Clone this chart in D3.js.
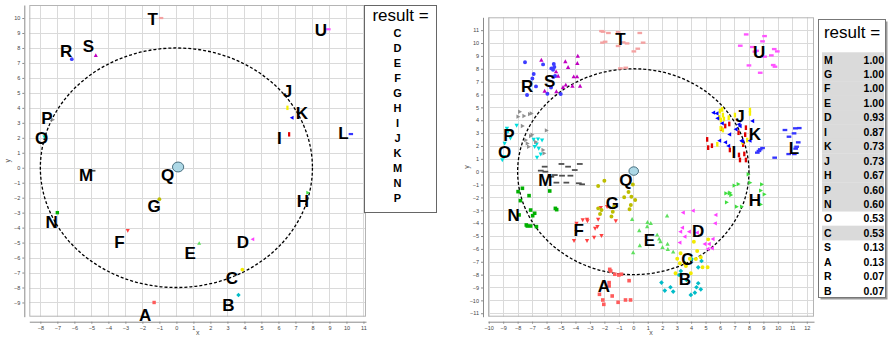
<!DOCTYPE html>
<html>
<head>
<meta charset="utf-8">
<script src="https://cdn.jsdelivr.net/npm/d3@7"></script>
<style>
  body { margin: 0; background: #fff; }
  svg { display: block; }
  text { font-family: "Liberation Sans", Arial, sans-serif; }
</style>
</head>
<body>
<svg id="chart" width="888" height="337"></svg>
<script>
// ---------- data ----------
const letters = ["A","B","C","D","E","F","G","H","I","J","K","L","M","N","O","P","R","S","T","U"];

// single-sample view (left): one point per letter
const leftPtX = [-1.31, 3.65, 3.88, 4.49, 1.34, -2.86, -1.0, 7.73, 6.63, 6.53, 6.8, 10.26, -4.92, -7.0, -7.76, -7.27, -6.15, -4.74, -0.9, 8.94];
const leftPtY = [-9.0, -8.5, -6.8, -4.78, -5.05, -4.2, -2.1, -1.67, 2.23, 4.0, 3.34, 2.25, -0.2, -3.0, 2.07, 3.2, 7.25, 7.5, 10.0, 9.25];
const leftLabelX = [-1.84, 3.06, 3.26, 3.91, 0.81, -3.35, -1.31, 7.44, 6.06, 6.53, 7.38, 9.82, -5.31, -7.33, -7.92, -7.62, -6.49, -5.18, -1.39, 8.49];
const leftLabelY = [-9.84, -9.17, -7.39, -5.01, -5.72, -4.98, -2.56, -2.27, 1.96, 5.08, 3.63, 2.30, -0.49, -3.65, 1.96, 3.30, 7.75, 8.13, 9.87, 9.15];
const leftQuery = [0.1, 0.05];
const leftQueryLabel = [-0.51, -0.49];
const leftResult = ["C","D","E","F","G","H","I","J","K","M","N","P"];

// multi-sample view (right): 15 points per letter
const ptsA = [[-1.63,-7.59],[-1.56,-7.72],[-1.28,-7.97],[-1.00,-8.03],[-0.82,-7.97],[-1.67,-8.62],[-1.67,-8.88],[-2.34,-9.53],[-1.46,-9.66],[-2.11,-9.97],[-2.04,-10.31],[-1.05,-10.15],[-0.54,-9.97],[-0.19,-9.97],[-0.29,-8.47]];
const ptsB = [[4.03,-6.78],[4.72,-6.94],[4.49,-7.43],[3.29,-7.72],[1.95,-8.62],[2.18,-9.24],[2.57,-8.98],[4.37,-8.98],[4.67,-9.14],[4.26,-9.40],[3.98,-9.58],[3.17,-8.03],[3.68,-8.42],[2.76,-9.32],[4.49,-8.67]];
const ptsC = [[5.18,-5.26],[4.19,-5.44],[4.42,-6.16],[3.27,-6.34],[3.04,-6.76],[3.22,-7.12],[3.91,-6.76],[3.64,-7.33],[2.92,-7.90],[3.98,-7.90],[4.33,-6.78],[4.79,-7.43],[5.14,-7.43],[4.67,-6.65],[3.57,-7.12]];
const ptsD = [[3.45,-3.18],[4.14,-3.03],[5.71,-3.36],[5.67,-4.01],[3.27,-4.66],[3.40,-4.35],[3.87,-4.66],[3.57,-5.05],[3.22,-5.51],[4.42,-4.74],[4.95,-5.62],[5.25,-5.62],[5.51,-5.23],[5.46,-5.95],[5.16,-6.01]];
const ptsE = [[-0.08,-3.70],[0.98,-3.93],[1.21,-4.01],[0.96,-4.27],[0.41,-4.58],[0.45,-5.75],[-0.01,-6.29],[2.34,-3.44],[1.65,-4.92],[1.79,-5.23],[1.88,-5.44],[2.37,-5.62],[2.39,-6.03],[2.76,-6.24],[2.02,-5.88]];
const ptsF = [[-3.93,-4.01],[-3.50,-3.75],[-3.20,-3.70],[-3.17,-3.83],[-2.25,-2.79],[-1.81,-2.72],[-2.43,-3.70],[-1.21,-3.83],[-2.64,-4.40],[-2.48,-4.27],[-2.71,-5.10],[-2.20,-4.97],[-4.10,-5.36],[-3.20,-5.36],[-3.93,-4.66]];
const ptsG = [[-2.43,-1.11],[-2.00,-0.70],[-2.43,-2.85],[-2.30,-3.29],[-1.42,-3.11],[-1.51,-3.49],[-0.33,-1.58],[-0.13,-1.94],[0.13,-2.20],[-0.17,-2.59],[-0.26,-2.92],[-0.03,-1.00],[-0.63,-1.99],[-1.33,-2.72],[-2.20,-2.98]];
const ptsH = [[6.41,-1.68],[6.68,-1.63],[6.98,-1.08],[7.26,-0.96],[6.75,-1.81],[6.45,-2.38],[7.14,-2.72],[7.49,-2.72],[7.95,-0.20],[8.07,-0.85],[8.88,-0.98],[9.06,-1.76],[8.81,-1.47],[8.81,-2.54],[6.64,-1.68]];
const ptsI = [[6.64,3.71],[6.36,3.55],[6.08,3.34],[7.79,3.42],[7.28,3.03],[5.11,2.51],[5.18,1.87],[5.44,2.02],[6.68,1.69],[7.74,2.88],[7.60,2.10],[7.31,1.30],[7.68,1.38],[7.79,0.91],[7.38,0.91]];
const ptsJ = [[6.15,4.84],[5.99,4.72],[6.20,4.40],[6.27,4.09],[6.06,4.02],[8.07,4.79],[7.03,4.40],[6.04,3.37],[6.20,3.24],[5.81,2.13],[7.55,2.30],[5.94,4.22],[6.60,4.20],[8.07,4.53],[7.88,2.46]];
const ptsK = [[5.55,4.59],[5.83,4.15],[6.15,3.76],[7.31,3.68],[8.25,3.94],[7.10,3.30],[6.66,2.90],[5.97,2.41],[6.38,2.28],[6.59,2.00],[7.49,2.41],[7.55,2.35],[8.07,2.41],[5.78,4.53],[7.38,3.55]];
const ptsL = [[10.49,3.24],[11.21,3.37],[11.48,3.39],[11.12,2.98],[10.77,2.72],[11.41,2.28],[11.23,1.79],[10.75,1.37],[11.14,1.37],[9.78,1.09],[8.94,1.84],[8.69,1.61],[8.78,1.74],[8.58,1.48],[11.30,1.94]];
const ptsM = [[-6.13,0.39],[-4.97,0.60],[-3.70,0.60],[-6.40,0.08],[-5.43,-0.26],[-4.93,-0.31],[-4.35,-0.31],[-5.32,-0.85],[-4.63,-0.85],[-3.77,-0.90],[-3.54,-0.98],[-6.08,0.00],[-5.67,-0.39],[-4.05,0.13],[-4.51,0.39]];
const ptsN = [[-7.97,-1.55],[-7.67,-1.29],[-7.21,-1.86],[-7.81,-2.25],[-5.78,-1.50],[-7.10,-2.98],[-6.82,-3.23],[-6.96,-3.42],[-5.39,-2.85],[-5.30,-2.95],[-7.33,-4.22],[-7.10,-4.22],[-6.70,-4.27],[-7.90,-3.36],[-7.40,-4.14]];
const ptsO = [[-8.74,3.37],[-8.07,3.60],[-8.90,2.20],[-9.06,0.91],[-8.94,1.17],[-6.89,2.51],[-6.59,2.54],[-6.68,2.15],[-6.54,1.81],[-6.40,1.37],[-6.66,1.12],[-6.82,1.94],[-6.31,2.46],[-8.67,3.11],[-8.50,2.60]];
const ptsP = [[-7.86,4.66],[-7.56,4.33],[-7.17,4.48],[-7.05,4.53],[-7.67,3.55],[-7.44,2.46],[-7.00,2.88],[-7.10,2.77],[-7.33,2.20],[-7.24,1.94],[-6.75,2.31],[-6.01,3.21],[-6.24,1.69],[-6.17,1.43],[-7.97,4.28]];
const ptsR = [[-7.49,8.50],[-6.24,8.34],[-5.50,8.37],[-5.46,8.13],[-5.67,8.03],[-6.89,7.59],[-6.98,7.25],[-5.41,7.43],[-5.53,7.36],[-6.73,6.63],[-5.69,6.55],[-7.35,5.96],[-5.94,6.06],[-5.02,6.04],[-5.55,7.93]];
const ptsS = [[-6.36,8.68],[-4.70,8.55],[-3.84,8.99],[-3.87,8.42],[-4.51,8.11],[-5.34,7.77],[-5.20,7.43],[-4.12,7.38],[-3.89,7.38],[-3.68,6.66],[-4.21,6.66],[-4.67,6.74],[-5.32,6.22],[-6.13,6.27],[-4.86,6.55]];
const ptsT = [[-2.20,10.93],[-1.72,10.78],[-1.05,10.85],[0.45,10.78],[-1.95,10.10],[-2.13,10.03],[-0.70,10.05],[-0.43,9.97],[0.68,10.03],[-1.05,9.77],[0.31,9.56],[0.04,9.35],[-0.89,8.03],[-0.52,8.08],[-2.09,10.88]];
const ptsU = [[7.81,10.67],[9.08,10.54],[7.40,9.79],[8.94,10.13],[8.23,9.69],[8.53,9.40],[9.75,9.53],[9.96,9.35],[9.55,9.04],[9.08,8.94],[9.68,8.29],[9.80,8.16],[8.00,8.26],[8.78,7.69],[8.41,9.33]];
const rightClusters = [ptsA, ptsB, ptsC, ptsD, ptsE, ptsF, ptsG, ptsH, ptsI, ptsJ, ptsK, ptsL, ptsM, ptsN, ptsO, ptsP, ptsR, ptsS, ptsT, ptsU];
const rightLabelX = [-2.04, 3.57, 3.75, 4.49, 1.11, -3.77, -1.44, 8.41, 6.96, 7.38, 8.41, 11.11, -6.08, -8.27, -8.90, -8.60, -7.35, -5.78, -0.89, 8.71];
const rightLabelY = [-8.93, -8.34, -6.81, -4.61, -5.31, -4.58, -2.46, -2.25, 1.48, 4.27, 2.90, 1.81, -0.65, -3.44, 1.48, 2.85, 6.66, 6.99, 10.29, 9.25];
const rightQuery = [0.03, 0.05];
const rightQueryLabel = [-0.52, -0.65];
const resultNames = ["M","G","F","E","D","I","K","J","H","P","N","O","C","S","A","R","B"];
const resultValues = [1.00, 1.00, 1.00, 1.00, 0.93, 0.87, 0.73, 0.73, 0.67, 0.60, 0.60, 0.53, 0.53, 0.13, 0.13, 0.07, 0.07];
const shadedRows = ["M","G","F","E","D","I","K","J","H","P","N","C"];

const queryRadius = 8;   // dashed search radius around the query point
const querySize = 0.33;  // radius of the query marker in data units

// ticks
const leftXTicks = d3.range(-8, 12);
const leftYTicks = d3.range(-9, 11);
const rightXTicks = d3.range(-10, 13);
const rightYTicks = d3.range(-11, 12);

// ---------- marker styles ----------
const markerStyle = {
  A: { shape: "square",  color: "#ff5c5c" },
  B: { shape: "diamond", color: "#00bcc8" },
  C: { shape: "circle",  color: "#f2ea00" },
  D: { shape: "triL",    color: "#ff40ff" },
  E: { shape: "triU",    color: "#5fe05f" },
  F: { shape: "triD",    color: "#ff4040" },
  G: { shape: "circle",  color: "#bdbd00" },
  H: { shape: "triR",    color: "#3fdd3f" },
  I: { shape: "vbar",    color: "#e00000" },
  J: { shape: "vbar",    color: "#f5f000" },
  K: { shape: "triL",    color: "#0000ff" },
  L: { shape: "hbar",    color: "#3535ff" },
  M: { shape: "dash",    color: "#505050" },
  N: { shape: "square",  color: "#00b000" },
  O: { shape: "triD",    color: "#00dede" },
  P: { shape: "triR",    color: "#909090" },
  R: { shape: "circle",  color: "#3d3dff" },
  S: { shape: "triU",    color: "#c000c0" },
  T: { shape: "hbar",    color: "#f4a2a2" },
  U: { shape: "hbar",    color: "#ff55ff" }
};

function shapePath(shape, s) {
  switch (shape) {
    case "square":  return `M${-s},${-s}h${2*s}v${2*s}h${-2*s}Z`;
    case "diamond": return `M0,${-s*1.3}L${s*1.3},0L0,${s*1.3}L${-s*1.3},0Z`;
    case "triU":    return `M0,${-s*1.3}L${s*1.2},${s*0.9}L${-s*1.2},${s*0.9}Z`;
    case "triD":    return `M0,${s*1.3}L${s*1.2},${-s*0.9}L${-s*1.2},${-s*0.9}Z`;
    case "triL":    return `M${-s*1.3},0L${s*0.9},${-s*1.2}L${s*0.9},${s*1.2}Z`;
    case "triR":    return `M${s*1.3},0L${-s*0.9},${-s*1.2}L${-s*0.9},${s*1.2}Z`;
    case "hbar":    return `M${-s*1.3},${-s*0.65}h${2.6*s}v${1.3*s}h${-2.6*s}Z`;
    case "vbar":    return `M${-s*0.65},${-s*1.3}h${1.3*s}v${2.6*s}h${-1.3*s}Z`;
    case "dash":    return `M${-s*1.6},${-s*0.5}h${3.2*s}v${1.0*s}h${-3.2*s}Z`;
    default: {
      const r = s * 1.1;
      return `M${r},0A${r},${r},0,1,1,${-r},0A${r},${r},0,1,1,${r},0Z`;
    }
  }
}

// ---------- panel frame ----------
const svg = d3.select("#chart");

function buildPanel(cfg) {
  const x = d3.scaleLinear().domain(cfg.xDomain).range([cfg.left, cfg.right]);
  const y = d3.scaleLinear().domain(cfg.yDomain).range([cfg.bottom, cfg.top]);
  const g = svg.append("g");

  // plot background + grid
  g.append("rect")
    .attr("x", cfg.left).attr("y", cfg.top)
    .attr("width", cfg.right - cfg.left).attr("height", cfg.bottom - cfg.top)
    .attr("fill", "#fff");
  const grid = g.append("g").attr("stroke", "#dadada").attr("stroke-width", 1);
  cfg.xTicks.forEach(t => {
    grid.append("line").attr("x1", Math.round(x(t)) + 0.5).attr("x2", Math.round(x(t)) + 0.5)
      .attr("y1", cfg.top).attr("y2", cfg.bottom);
  });
  cfg.yTicks.forEach(t => {
    grid.append("line").attr("y1", Math.round(y(t)) + 0.5).attr("y2", Math.round(y(t)) + 0.5)
      .attr("x1", cfg.left).attr("x2", cfg.right);
  });
  g.append("rect")
    .attr("x", cfg.left + 0.5).attr("y", cfg.top + 0.5)
    .attr("width", cfg.right - cfg.left - 1).attr("height", cfg.bottom - cfg.top - 1)
    .attr("fill", "none").attr("stroke", "#b4b4b4");

  // axes, offset from the plot area
  const xAxis = g.append("g")
    .attr("transform", `translate(0,${cfg.bottom + 5})`)
    .call(d3.axisBottom(x).tickValues(cfg.xTicks).tickSize(2).tickSizeOuter(0).tickPadding(2));
  const yAxis = g.append("g")
    .attr("transform", `translate(${cfg.left - 5},0)`)
    .call(d3.axisLeft(y).tickValues(cfg.yTicks).tickSize(2).tickSizeOuter(0).tickPadding(2));
  [xAxis, yAxis].forEach(a => {
    a.selectAll("path").attr("stroke", "#8a8a8a");
    a.selectAll("line").attr("stroke", "#8a8a8a");
    a.selectAll("text").attr("font-size", 5.5).attr("fill", "#444")
      .attr("font-family", "Liberation Sans, Arial, sans-serif");
  });
  g.append("text").attr("x", (cfg.left + cfg.right) / 2).attr("y", 335)
    .attr("text-anchor", "middle").attr("font-size", 7).attr("fill", "#555").text("x");
  g.append("text")
    .attr("transform", `translate(${cfg.left - 19},${(cfg.top + cfg.bottom) / 2}) rotate(-90)`)
    .attr("text-anchor", "middle").attr("font-size", 7).attr("fill", "#555").text("y");

  // dashed search circle
  g.append("ellipse")
    .attr("cx", x(0)).attr("cy", y(0))
    .attr("rx", x(queryRadius) - x(0)).attr("ry", y(0) - y(queryRadius))
    .attr("fill", "none").attr("stroke", "#000").attr("stroke-width", 1.3)
    .attr("stroke-dasharray", "3,2");

  return { g, x, y };
}

function drawQuery(p, q, lab) {
  p.g.append("ellipse")
    .attr("cx", p.x(q[0])).attr("cy", p.y(q[1]))
    .attr("rx", p.x(querySize) - p.x(0)).attr("ry", p.y(0) - p.y(querySize))
    .attr("fill", "#add8e6").attr("stroke", "#4a7080").attr("stroke-width", 1);
  drawLabel(p, "Q", lab[0], lab[1]);
}

function drawLabel(p, name, lx, ly) {
  p.g.append("text")
    .attr("x", p.x(lx)).attr("y", p.y(ly))
    .attr("text-anchor", "middle").attr("dominant-baseline", "central")
    .attr("font-size", 17).attr("font-weight", "bold").attr("fill", "#000")
    .text(name);
}

function drawMarker(p, name, px, py, s) {
  const st = markerStyle[name];
  p.g.append("path")
    .attr("d", shapePath(st.shape, s))
    .attr("transform", `translate(${p.x(px)},${p.y(py)})`)
    .attr("fill", st.color);
}

// ---------- left panel ----------
const leftPanel = buildPanel({
  left: 29.3, right: 366, top: 5, bottom: 316.7,
  xDomain: [-8.65, 11.15], yDomain: [-9.95, 10.87],
  xTicks: leftXTicks, yTicks: leftYTicks
});
letters.forEach((n, i) => {
  drawMarker(leftPanel, n, leftPtX[i], leftPtY[i], 1.7);
  drawLabel(leftPanel, n, leftLabelX[i], leftLabelY[i]);
});
drawQuery(leftPanel, leftQuery, leftQueryLabel);

// left result box
const lb = svg.append("g");
lb.append("rect").attr("x", 364.5).attr("y", 5.5).attr("width", 72).attr("height", 207)
  .attr("fill", "#fff").attr("stroke", "#666");
lb.append("text").attr("x", 400.5).attr("y", 21).attr("text-anchor", "middle")
  .attr("font-size", 17).text("result =");
leftResult.forEach((n, i) => {
  lb.append("text").attr("x", 397.5).attr("y", 33.3 + 15 * i)
    .attr("text-anchor", "middle").attr("dominant-baseline", "central")
    .attr("font-size", 11).attr("font-weight", "bold").text(n);
});

// ---------- right panel ----------
const rightPanel = buildPanel({
  left: 488, right: 814, top: 17.3, bottom: 316.7,
  xDomain: [-10.05, 12.5], yDomain: [-11.27, 12.0],
  xTicks: rightXTicks, yTicks: rightYTicks
});
letters.forEach((n, i) => {
  rightClusters[i].forEach(pt => drawMarker(rightPanel, n, pt[0], pt[1], 1.8));
});
letters.forEach((n, i) => drawLabel(rightPanel, n, rightLabelX[i], rightLabelY[i]));
drawQuery(rightPanel, rightQuery, rightQueryLabel);

// right result table
const rb = svg.append("g");
const rowY = d3.scaleLinear().domain([0, resultNames.length - 1]).range([59.5, 290.7]);
const rowH = rowY(1) - rowY(0);
rb.append("rect").attr("x", 820.5).attr("y", 21.5).attr("width", 67).attr("height", 278)
  .attr("fill", "#9a9a9a");
rb.append("rect").attr("x", 818.5).attr("y", 19.5).attr("width", 67).attr("height", 278)
  .attr("fill", "#fff").attr("stroke", "#777");
rb.append("text").attr("x", 852).attr("y", 38).attr("text-anchor", "middle")
  .attr("font-size", 17).text("result =");
resultNames.forEach((n, i) => {
  if (shadedRows.includes(n)) {
    rb.append("rect").attr("x", 822).attr("y", rowY(i) - rowH / 2)
      .attr("width", 62).attr("height", rowH + 0.3).attr("fill", "#dadada");
  }
});
resultNames.forEach((n, i) => {
  rb.append("text").attr("x", 824).attr("y", rowY(i))
    .attr("dominant-baseline", "central")
    .attr("font-size", 10.5).attr("font-weight", "bold").text(n);
  rb.append("text").attr("x", 884).attr("y", rowY(i))
    .attr("text-anchor", "end").attr("dominant-baseline", "central")
    .attr("font-family", "DejaVu Sans Mono, monospace")
    .attr("font-size", 10.5).attr("font-weight", "bold").text(resultValues[i].toFixed(2));
});
</script>
</body>
</html>
